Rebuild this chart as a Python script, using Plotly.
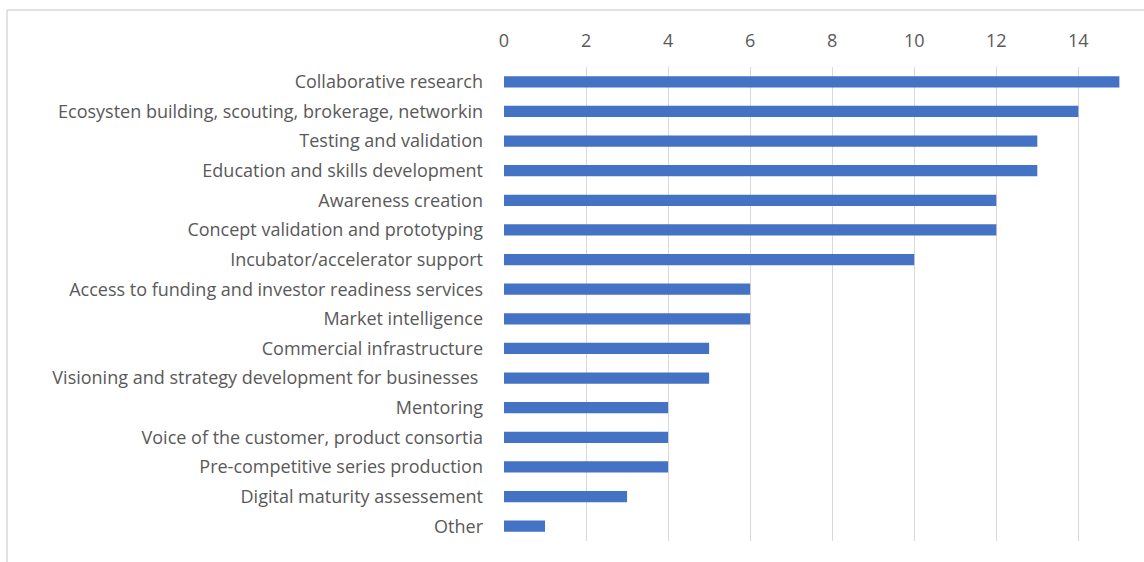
import plotly.graph_objects as go

categories = [
    "Collaborative research",
    "Ecosysten building, scouting, brokerage, networkin",
    "Testing and validation",
    "Education and skills development",
    "Awareness creation",
    "Concept validation and prototyping",
    "Incubator/accelerator support",
    "Access to funding and investor readiness services",
    "Market intelligence",
    "Commercial infrastructure",
    "Visioning and strategy development for businesses ",
    "Mentoring",
    "Voice of the customer, product consortia",
    "Pre-competitive series production",
    "Digital maturity assessement",
    "Other",
]
values = [15, 14, 13, 13, 12, 12, 10, 6, 6, 5, 5, 4, 4, 4, 3, 1]
x_ticks = [0, 2, 4, 6, 8, 10, 12, 14]

fig = go.Figure(go.Bar(
    x=values, y=categories, orientation="h",
    marker=dict(color="#4472C4", line=dict(width=0)),
))

fig.update_layout(
    width=1144, height=562,
    margin=dict(l=504, r=0, t=67, b=21),
    paper_bgcolor="white", plot_bgcolor="white",
    bargap=0.62,
    showlegend=False,
    font=dict(family="Open Sans, Calibri, sans-serif", size=18, color="#595959"),
    xaxis=dict(
        side="top", range=[0, 15.6], tickvals=x_ticks,
        showgrid=True, gridcolor="#d9d9d9", gridwidth=1,
        zeroline=False, showline=False, ticks="",
        tickfont=dict(size=18, color="#595959"),
        ticklabelstandoff=15,
    ),
    yaxis=dict(
        autorange="reversed", showgrid=False, showline=False,
        zeroline=False, ticks="",
        tickfont=dict(size=18, color="#595959"),
        ticklabelstandoff=20,
    ),
    shapes=[
        dict(type="line", xref="paper", yref="paper",
             x0=(7 - 504) / 640, x1=(7 - 504) / 640,
             y0=1 + (67 - 10) / 474, y1=-0.2,
             line=dict(color="#d9d9d9", width=1.5)),
        dict(type="line", xref="paper", yref="paper",
             x0=(7 - 504) / 640, x1=1.2,
             y0=1 + (67 - 10) / 474, y1=1 + (67 - 10) / 474,
             line=dict(color="#d9d9d9", width=1.5)),
    ],
)

fig.write_html("out.html")
